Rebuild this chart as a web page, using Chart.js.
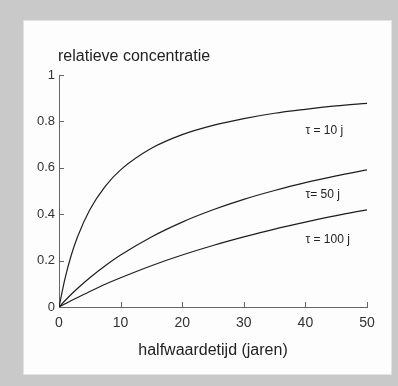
<!DOCTYPE html>
<html>
<head>
<meta charset="utf-8">
<script src="https://cdn.jsdelivr.net/npm/chart.js@4.4.0/dist/chart.umd.min.js"></script>
<style>
  html, body { margin: 0; padding: 0; }
  body { width: 398px; height: 386px; background: #c9c9c9; position: relative; overflow: hidden; }
  .panel { position: absolute; left: 23px; top: 20px; width: 369px; height: 355px; background: #fdfdfd; border: 1px solid #e2e2e2; box-sizing: border-box; }
  #chart { position: absolute; left: 0; top: 0; }
</style>
</head>
<body>
<div class="panel"></div>
<canvas id="chart" width="398" height="386"></canvas>
<script>
// halfwaardetijd (jaren)
const halfLife = [0, 1, 2, 3, 5, 7.5, 10, 15, 20, 25, 30, 35, 40, 45, 50];
// relatieve concentratie per verblijftijd
const tau10  = [0, 0.126, 0.224, 0.302, 0.419, 0.52, 0.591, 0.684, 0.743, 0.783, 0.812, 0.835, 0.852, 0.867, 0.878];
const tau50  = [0, 0.028, 0.055, 0.08, 0.126, 0.178, 0.224, 0.302, 0.366, 0.419, 0.464, 0.502, 0.536, 0.565, 0.591];
const tau100 = [0, 0.014, 0.028, 0.041, 0.067, 0.098, 0.126, 0.178, 0.224, 0.265, 0.302, 0.336, 0.366, 0.394, 0.419];
const curveLabels = ['\u03c4 = 10 j', '\u03c4= 50 j', '\u03c4 = 100 j'];
const labelPos = [[40, 0.759], [40, 0.483], [40, 0.289]];
const xTicks = [0, 10, 20, 30, 40, 50];
const yTicks = [0, 0.2, 0.4, 0.6, 0.8, 1];

const FONT = '"Liberation Sans", Arial, Helvetica, sans-serif';
const AXIS = '#666';

const pts = ys => halfLife.map((x, i) => ({x: x, y: ys[i]}));

const extras = {
  id: 'extras',
  afterDraw(chart) {
    const c = chart.ctx, xs = chart.scales.x, ys = chart.scales.y;
    c.save();
    // inward ticks
    c.strokeStyle = AXIS;
    c.lineWidth = 1;
    c.beginPath();
    yTicks.forEach(v => {
      if (v === 0) return;
      const py = Math.round(ys.getPixelForValue(v)) + 0.5;
      c.moveTo(xs.left, py); c.lineTo(xs.left + 5, py);
    });
    xTicks.forEach(v => {
      if (v === 0) return;
      const px = Math.round(xs.getPixelForValue(v)) + 0.5;
      c.moveTo(px, ys.bottom); c.lineTo(px, ys.bottom - 5);
    });
    c.stroke();
    // title of y axis
    c.fillStyle = '#222';
    c.font = '16px ' + FONT;
    c.textBaseline = 'alphabetic';
    c.textAlign = 'left';
    c.fillText('relatieve concentratie', 58, 61);
    // curve labels
    c.font = '12px ' + FONT;
    c.textBaseline = 'middle';
    curveLabels.forEach((t, i) => {
      c.fillText(t, xs.getPixelForValue(labelPos[i][0]), ys.getPixelForValue(labelPos[i][1]));
    });
    c.restore();
  }
};

const ds = (d) => ({
  data: pts(d),
  borderColor: '#1e1e1e',
  borderWidth: 1.2,
  pointRadius: 0,
  fill: false,
  cubicInterpolationMode: 'monotone'
});

new Chart(document.getElementById('chart'), {
  type: 'line',
  data: { datasets: [ds(tau10), ds(tau50), ds(tau100)] },
  options: {
    responsive: false,
    animation: false,
    layout: { padding: { top: 75, right: 31, left: 0, bottom: 26 } },
    plugins: { legend: { display: false }, tooltip: { enabled: false } },
    scales: {
      x: {
        type: 'linear', min: 0, max: 50,
        afterBuildTicks: s => { s.ticks = xTicks.map(v => ({value: v})); },
        afterFit: s => { s.height = 53; },
        grid: { display: false, drawTicks: false },
        border: { display: true, color: AXIS, width: 1 },
        ticks: { padding: 8, color: '#333', font: { family: FONT, size: 14 } },
        title: { display: true, text: 'halfwaardetijd (jaren)', color: '#222',
                 font: { family: FONT, size: 16 }, padding: { top: 8, bottom: 0 } }
      },
      y: {
        type: 'linear', min: 0, max: 1,
        afterBuildTicks: s => { s.ticks = yTicks.map(v => ({value: v})); },
        afterFit: s => { s.width = 59; },
        grid: { display: false, drawTicks: false },
        border: { display: true, color: AXIS, width: 1 },
        ticks: { padding: 4, color: '#333', font: { family: FONT, size: 13 },
                 callback: v => String(v) }
      }
    }
  },
  plugins: [extras]
});
</script>
</body>
</html>
